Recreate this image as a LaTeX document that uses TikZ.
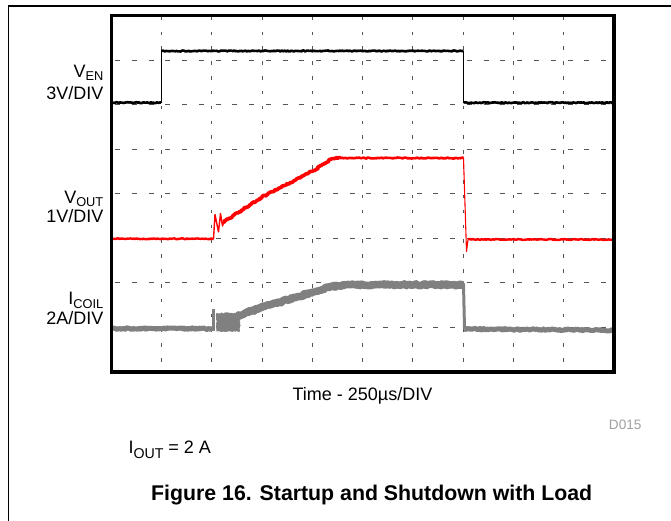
\documentclass[tikz,border=0pt]{standalone}
\usepackage{fontspec}
\setmainfont{Liberation Sans}
\usetikzlibrary{decorations.pathmorphing}
\definecolor{coilgray}{RGB}{128,128,128}
\definecolor{gridgray}{RGB}{85,85,85}
\definecolor{idgray}{RGB}{160,160,160}
\definecolor{tracered}{RGB}{255,0,0}
\newcommand\lowsub[3][3.4pt]{\raisebox{-#1}{\fontsize{#2}{#2}\selectfont #3}}
\begin{document}
\begin{tikzpicture}[x=1pt,y=-1pt,
  lbl/.style={font=\fontsize{18}{20}\selectfont, inner sep=0pt},
  chlbl/.style={font=\fontsize{18}{#1}\selectfont, inner sep=0pt, align=right, anchor=base east},
  jit/.style={decorate, decoration={random steps, segment length=1.2pt, amplitude=#1}},
  jit/.default=0.5pt,
  vgrid/.style={gridgray, line width=1pt, dash pattern=on 3.5pt off 11.35pt, dash phase=13.85pt},
  hgrid/.style={gridgray, line width=1pt, dash pattern=on 5pt off 11.76pt, dash phase=13.06pt},
  ventrace/.style={black, line join=round},
  redtrace/.style={tracered, line join=round},
  coiltrace/.style={coilgray, line join=round},
]
\useasboundingbox (0,0) rectangle (671,521);
% outer frame
\draw[line width=1.3pt] (8.2,521) -- (8.2,6) -- (671,6);
% grid
\foreach \k in {1,...,9} \draw[vgrid] ({111.3+\k*50.27},15.7) -- ({111.3+\k*50.27},372);
\foreach \k in {1,...,7} \draw[hgrid] (111.3,{15.7+\k*44.54}) -- (614,{15.7+\k*44.54});
\pgfmathsetseed{7}
% V_EN trace
\draw[ventrace, line width=2.6pt, jit] (111.3,102.7) -- (161.3,102.7);
\draw[ventrace, line width=1.2pt] (161.3,102.7) -- (161.3,51);
\draw[ventrace, line width=2.6pt, jit] (161.3,51) -- (463.5,51);
\draw[ventrace, line width=1.2pt] (463.5,51) -- (463.5,102.7);
\draw[ventrace, line width=2.6pt, jit] (463.5,102.7) -- (613,102.7);
% V_OUT trace
\draw[redtrace, line width=2.4pt, jit] (111.3,238.8) -- (213.5,238.8);
\draw[redtrace, line width=1.4pt] (213.5,238.8) -- (215,214.5) -- (218.5,232) -- (220.5,213.5) -- (222.5,226) -- (224,221.5);
\draw[redtrace, line width=3.6pt, jit=0.9pt] (223,222.5) -- (262,197) -- (312,171.5) -- (332,158.5) -- (340,158);
\draw[redtrace, line width=2.6pt, jit] (340,158) -- (463.5,158);
\draw[redtrace, line width=1.1pt] (463.5,158) -- (466.5,251.5) -- (468,239.5);
\draw[redtrace, line width=2.4pt, jit] (468,239.5) -- (613,239.5);
% I_COIL trace
\draw[coiltrace, line width=5pt, jit=0.8pt] (111.3,328.6) -- (212,328.6);
\fill[coilgray] (211.8,309.3) rectangle (214.8,331);
\fill[coilgray, jit=0.6pt] (216.4,313) -- (240,313) -- (240,331.5) -- (216.4,331.5) -- cycle;
\draw[coiltrace, line width=7.5pt, jit=1pt] (236,316.5) -- (262,307.5) -- (312,292.5) -- (330,286.5) -- (350,284.8) -- (463.5,284.8);
\draw[coiltrace, line width=3pt] (463.5,284) -- (464.5,329);
\draw[coiltrace, line width=5pt, jit=0.8pt] (464.5,329) -- (540,329.6) -- (613,330.3);
% plot box
\draw[line width=3.3pt] (111.3,15.7) rectangle (614,372);
% labels
\node[chlbl=22] (ven) at (103.5,99.3) {V\lowsub{12.8}{EN}\\3V/DIV};
\node[chlbl=19.2] (vout) at (103.5,222.7) {V\lowsub{12.8}{OUT}\\1V/DIV};
\node[chlbl=19.2] (icoil) at (103.5,324) {I\lowsub{12.8}{COIL}\\2A/DIV};
\node[lbl, anchor=base] (time) at (362.5,400) {Time - 250µs/DIV};
\node[font=\fontsize{13.6}{14}\selectfont, text=idgray, anchor=base east, inner sep=0pt] (did) at (641.7,429.3) {D015};
\node[lbl, anchor=base west] (iout) at (128.3,453.3) {I\lowsub[5pt]{14.2}{OUT} = 2 A};
\node[font=\bfseries\fontsize{21.3}{24}\selectfont, anchor=base, inner sep=0pt] (cap) at (371.7,500.5) {Figure 16. Startup and Shutdown with Load};
\end{tikzpicture}
\end{document}
